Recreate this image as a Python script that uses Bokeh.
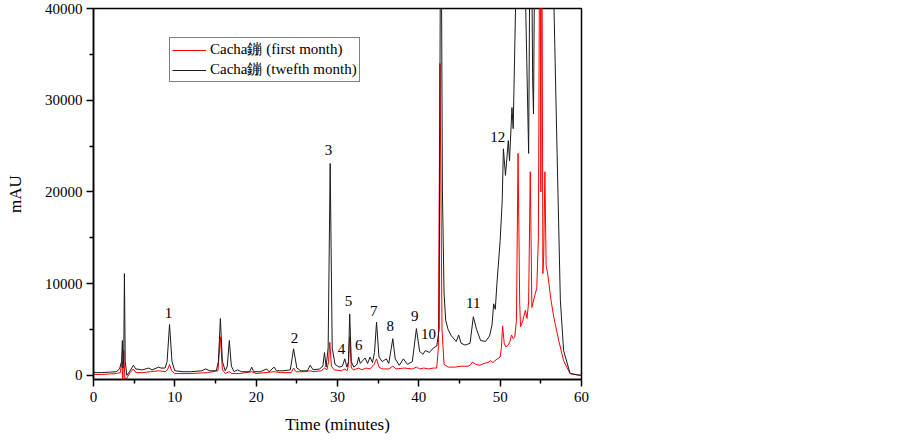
from bokeh.plotting import figure
from bokeh.models import Range1d, FixedTicker, ColumnDataSource
from bokeh.core.properties import value
from bokeh.embed import file_html
from bokeh.resources import INLINE

# Black trace: twelfth month
black_t = [0, 1, 2, 2.8, 3.2, 3.45, 3.55, 3.62, 3.72, 3.8, 3.9, 4.1, 4.5, 4.9, 5.2, 6, 6.8, 7.2, 8.0, 8.3,
           8.8, 9.05, 9.35, 9.65, 10, 11, 12, 13.3, 13.8, 14.3, 15.1, 15.35, 15.6, 15.85, 16.2, 16.45, 16.7,
           16.95, 17.3, 17.7, 18.2, 19.2, 19.45, 19.7, 20.5, 21.3, 21.6, 22.2, 22.5, 23.3, 24.2, 24.6, 25.0,
           25.5, 26.3, 26.65, 27.0, 27.8, 28.2, 28.4, 28.6, 28.85, 29.1, 29.35, 29.7, 30.2, 30.6, 30.9, 31.15,
           31.35, 31.5, 31.7, 32.0, 32.4, 32.6, 32.8, 33.1, 33.4, 33.7, 34.0, 34.3, 34.55, 34.8, 35.1, 35.5,
           36.0, 36.3, 36.8, 37.1, 37.6, 38.1, 38.6, 39.2, 39.7, 40.1, 40.5, 40.8, 41.3, 41.8, 42.2, 42.5,
           42.7, 42.9, 43.1, 43.3, 43.6, 44.0, 44.6, 44.9, 45.2, 45.7, 46.3, 46.7, 47.1, 47.6, 48.2, 48.7,
           49.0, 49.2, 49.4, 49.6, 50.0, 50.25, 50.4, 50.65, 51.0, 51.15, 51.45, 51.6, 52.0, 52.3, 52.9,
           53.1, 53.5, 53.75, 54.0, 54.1, 54.35, 55.0, 56.0, 56.5, 57.0, 57.4, 57.8, 58.6, 59.5, 60]
black_v = [300, 300, 350, 400, 700, 1500, 3800, 800, 2000, 11100, 1500, 0, 500, 1100, 700, 600, 800, 600, 900, 800,
           800, 1500, 5550, 1500, 500, 400, 400, 500, 700, 500, 500, 1500, 6200, 1500, 500, 1000, 3800,
           1000, 400, 600, 400, 400, 900, 400, 400, 700, 400, 900, 500, 500, 600, 2900, 800,
           500, 500, 1100, 600, 700, 1000, 2500, 900, 3000, 23100, 3000, 1200, 900, 1000, 1800, 900,
           1500, 6700, 1500, 900, 1200, 2000, 1300, 1600, 1900, 1300, 2000, 1400, 2500, 5800, 2000, 1500,
           1800, 1300, 4000, 1800, 1100, 1800, 1200, 1500, 5100, 2600, 2300, 2700, 2500, 3000, 3200, 5000,
           60000, 20000, 9000, 6000, 5000, 4300, 3700, 4400, 3500, 3300, 3500, 6400, 5000, 3800, 3700, 4300,
           5500, 7800, 7200, 10000, 14700, 19000, 24700, 21800, 25600, 23400, 29200, 26900, 45000, 70000, 60000,
           42000, 24200, 60000, 32000, 28500, 60000, 80000, 70000, 45000, 24200, 8200, 2700, 200, 50, 0]

# Red trace: first month
red_t = [0, 1, 2, 2.8, 3.3, 3.5, 3.6, 3.72, 3.85, 4.1, 4.5, 4.9, 5.2, 6, 7, 8, 8.8, 9.1, 9.35, 9.6, 10, 12, 14,
         15.3, 15.6, 15.85, 16.2, 16.7, 17, 18, 19.45, 20, 22.2, 23, 24.3, 24.6, 24.9, 26, 26.65, 27, 28, 28.4,
         28.7, 28.9, 29.05, 29.25, 29.6, 30.5, 30.9, 31.2, 31.35, 31.5, 31.7, 32, 32.6, 33, 33.5, 34, 34.5,
         34.8, 35.1, 35.5, 36.3, 36.8, 37.2, 38.2, 39.2, 39.7, 40.1, 40.6, 41.2, 41.8, 42.2, 42.4, 42.6, 42.85,
         43.1, 43.6, 44.5, 45.2, 46.0, 46.3, 46.6, 47.0, 47.5, 48.0, 48.5, 48.8, 49.1, 49.5, 50.0, 50.15, 50.3,
         50.5, 50.7, 51.0, 51.2, 51.4, 51.6, 51.8, 52.0, 52.2, 52.4, 52.5, 52.8, 53.1, 53.3, 53.5, 53.7, 53.9,
         54.2, 54.5, 54.7, 54.9, 55.0, 55.1, 55.25, 55.35, 55.5, 55.65, 55.8, 56.0, 56.2, 56.6, 57.2, 57.8,
         58.6, 59.5, 60]
red_v = [100, 100, 150, 200, 300, 1500, -400, 2700, -400, -300, 300, 700, 300, 300, 400, 500, 400, 600, 1200, 500, 200, 200, 300,
         500, 4200, 600, 200, 400, 200, 200, 400, 200, 400, 300, 300, 800, 400, 400, 500, 400, 500, 800,
         600, 1500, 3600, 1000, 600, 500, 700, 500, 1200, 4200, 800, 600, 800, 600, 800, 700, 1200,
         1800, 900, 700, 700, 1000, 700, 800, 700, 900, 700, 800, 700, 800, 800, 3000, 34000, 5000,
         1200, 900, 900, 1000, 1000, 1100, 1450, 1200, 1100, 1300, 1400, 1600, 1400, 1700, 2000, 3000, 5400,
         3500, 3100, 3300, 3700, 4400, 4000, 4200, 6000, 24200, 8000, 5300, 6000, 7100, 6200, 8000, 22200, 7400,
         8500, 9500, 15000, 60000, 20000, 60000, 11100, 13000, 22200, 12000, 11300, 10000, 8500, 6300, 3800, 1600,
         200, 50, 0]

# Peak labels
peak_labels = ["1", "2", "3", "4", "5", "6", "7", "8", "9", "10", "11", "12"]
label_t = [9.22, 24.72, 28.9, 30.5, 31.35, 32.6, 34.45, 36.5, 39.5, 41.2, 46.7, 49.7]
label_v = [6760, 4030, 24600, 2830, 8070, 3270, 7000, 5340, 6430, 4470, 7850, 25940]

series_names = ["Cacha\u93f0 (first month)", "Cacha\u93f0 (twefth month)"]
x_ticks = [0, 10, 20, 30, 40, 50, 60]
x_minor = [5, 15, 25, 35, 45, 55]
y_ticks = [0, 10000, 20000, 30000, 40000]
y_minor = [5000, 15000, 25000, 35000]

FONT = "Liberation Serif"

p = figure(width=596, height=438, output_backend="svg", toolbar_location=None,
           x_range=Range1d(0, 60), y_range=Range1d(-450, 40000),
           min_border_left=93, min_border_right=15, min_border_top=8, min_border_bottom=59)
p.background_fill_color = "white"
p.border_fill_color = "white"
p.outline_line_color = "black"
p.outline_line_width = 1.5
p.xgrid.visible = False
p.ygrid.visible = False

p.line(red_t, red_v, line_color="#ff0000", line_width=1, legend_label=series_names[0])
p.line(black_t, black_v, line_color="#1a1a1a", line_width=1, legend_label=series_names[1])

src = ColumnDataSource(dict(x=label_t, y=label_v, t=peak_labels))
p.text(x="x", y="y", text="t", source=src, text_font=value(FONT), text_font_size="15px",
       text_align="center", text_baseline="middle", text_color="black")

p.xaxis.ticker = FixedTicker(ticks=x_ticks, minor_ticks=x_minor)
p.yaxis.ticker = FixedTicker(ticks=y_ticks, minor_ticks=y_minor)
for ax in (p.xaxis, p.yaxis):
    ax.axis_line_width = 1.5
    ax.axis_line_color = "black"
    ax.major_tick_in = 0
    ax.major_tick_out = 7
    ax.minor_tick_in = 0
    ax.minor_tick_out = 4
    ax.major_tick_line_width = 1.5
    ax.minor_tick_line_width = 1.5
    ax.major_label_text_font = FONT
    ax.major_label_text_font_size = "15px"
    ax.major_label_text_color = "black"
    ax.axis_label_text_font = FONT
    ax.axis_label_text_font_size = "17px"
    ax.axis_label_text_font_style = "normal"
    ax.axis_label_text_color = "black"

p.xaxis.axis_label = "Time (minutes)"
p.yaxis.axis_label = "mAU"
p.xaxis.major_label_standoff = 5
p.xaxis.axis_label_standoff = 10
p.yaxis.major_label_standoff = 4
p.yaxis.axis_label_standoff = 17

lg = p.legend[0]
lg.location = (76, 297)
lg.border_line_color = "black"
lg.border_line_width = 1
lg.background_fill_color = "white"
lg.background_fill_alpha = 1
lg.label_text_font = FONT
lg.label_text_font_size = "15px"
lg.label_text_color = "black"
lg.glyph_width = 34
lg.glyph_height = 16
lg.label_height = 16
lg.label_standoff = 4
lg.padding = 2
lg.spacing = 1
lg.margin = 0

open("out.html", "w").write(file_html(p, INLINE))
